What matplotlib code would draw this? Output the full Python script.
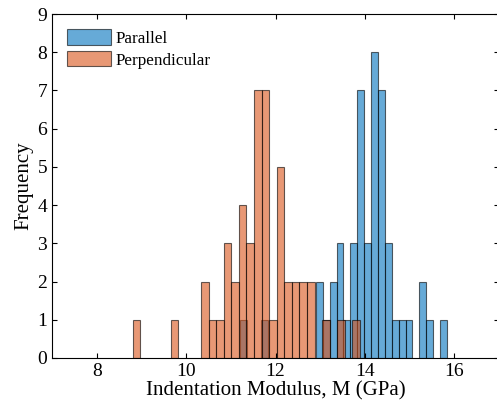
import matplotlib
matplotlib.use("Agg")
import matplotlib.pyplot as plt
import numpy as np

plt.rcParams["font.family"] = ["Liberation Serif", "DejaVu Serif"]

# histogram counts, one entry per bin (zeros included)
parallel_start = 11.2036
parallel_width = 0.1544
parallel_counts = [1, 0, 0, 1, 0, 0, 0, 0, 0, 0, 0,
                   2, 1, 2, 3, 1, 3, 7, 3, 8, 7, 3, 1, 1, 1, 0, 2, 1, 0, 1]

perp_start = 8.809
perp_width = 0.1694
perp_counts = [1, 0, 0, 0, 0, 1, 0, 0, 0, 2, 1, 1, 3, 2, 4, 3, 7, 7, 1, 5,
               2, 2, 2, 2, 0, 1, 0, 1, 0, 1]

series = [
    ("Parallel", parallel_start, parallel_width, parallel_counts, (0.0, 0.447, 0.741)),
    ("Perpendicular", perp_start, perp_width, perp_counts, (0.85, 0.325, 0.098)),
]

fig = plt.figure(figsize=(4.97, 4.16), dpi=100)
ax = fig.add_axes([52 / 497, 58 / 416, 447 / 497, 344 / 416])

for name, start, width, counts, color in series:
    counts = np.asarray(counts, dtype=float)
    lefts = start + width * np.arange(len(counts))
    keep = counts > 0
    bars = ax.bar(lefts[keep], counts[keep], width=width, align="edge",
                  color=color, alpha=0.6, edgecolor="black", linewidth=0.8)
    bars.set_label(name)

ax.set_xlim(7, 17)
ax.set_ylim(0, 9)
ax.set_xticks([8, 10, 12, 14, 16])
ax.set_yticks(range(10))
ax.tick_params(direction="in", length=3.5, top=True, right=True, labelsize=14, width=0.8)
for spine in ax.spines.values():
    spine.set_linewidth(0.8)

ax.set_xlabel("Indentation Modulus, M (GPa)", fontsize=15, labelpad=1)
ax.set_ylabel("Frequency", fontsize=15, labelpad=3)

leg = ax.legend(loc="upper left", frameon=False, fontsize=12.3, handlelength=2.55,
                handleheight=1.0, handletextpad=0.3, labelspacing=0.25,
                borderaxespad=0.5, bbox_to_anchor=(0.0, 1.0))

fig.savefig("out.png", dpi=100)
plt.close(fig)
